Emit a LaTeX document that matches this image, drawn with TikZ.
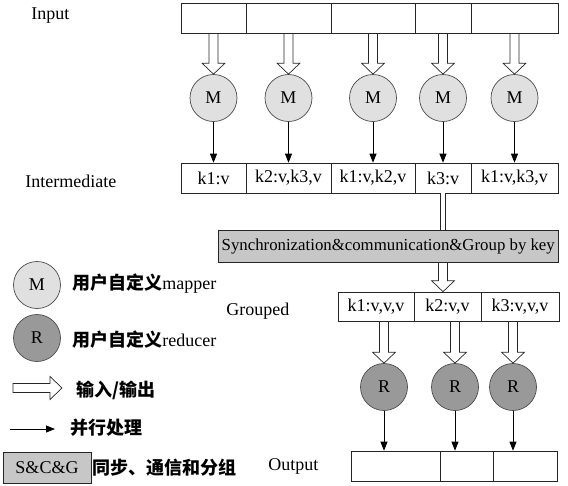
\documentclass[tikz,border=0pt]{standalone}
\usepackage{fontspec}
\setmainfont{Liberation Serif}
\newfontfamily\cjk{Noto Sans CJK SC}
\usetikzlibrary{calc,arrows.meta}
\newcommand\myfs{\fontsize{18}{21}\selectfont}
\begin{document}
\begin{tikzpicture}[x=1pt,y=-1pt,line width=0.7pt,
  cell/.style={draw=black!85,minimum height=30pt,inner sep=0pt,font=\myfs},
  mcirc/.style={circle,draw=black!70,fill=black!12,minimum size=47pt,inner sep=0pt,font=\myfs},
  rcirc/.style={circle,draw=black!70,fill=black!40,minimum size=47pt,inner sep=0pt,font=\myfs},
  graybox/.style={draw=black!85,fill=black!22,inner sep=0pt},
  lbl/.style={inner sep=0pt,font=\myfs,anchor=west},
  conn/.style={draw=black,line width=0.8pt,-{Triangle[width=7pt,length=9pt]}},
  hollowdown/.style={draw=black!85,line width=0.7pt,to path={let \p1=(\tikztostart),\p2=(\tikztotarget) in
     (\x1-4.5pt,\y1) -- (\x1-4.5pt,\y2+11pt) -- (\x1-11.5pt,\y2+11pt) -- (\x1,\y2)
     -- (\x1+11.5pt,\y2+11pt) -- (\x1+4.5pt,\y2+11pt) -- (\x1+4.5pt,\y1)}},
  hollowright/.style={draw=black!85,line width=0.7pt,to path={let \p1=(\tikztostart),\p2=(\tikztotarget) in
     (\x1,\y1+4.5pt) -- (\x2-12pt,\y1+4.5pt) -- (\x2-12pt,\y1+11.5pt) -- (\x2,\y1)
     -- (\x2-12pt,\y1-11.5pt) -- (\x2-12pt,\y1-4.5pt) -- (\x1,\y1-4.5pt) -- cycle}}
]
\useasboundingbox (0,0) rectangle (568,485);

% labels
\node[lbl] (linput) at (31,16) {Input};
\node[lbl] (linter) at (25,181) {Intermediate};
\node[lbl] (lgroup) at (226,311) {Grouped};
\node[lbl] (loutput) at (268,466) {Output};

% input row
\node[cell,minimum width=65pt] (t1) at (213.5,18.5) {};
\node[cell,minimum width=85pt] (t2) at (288.5,18.5) {};
\node[cell,minimum width=84pt] (t3) at (373,18.5) {};
\node[cell,minimum width=56pt] (t4) at (443,18.5) {};
\node[cell,minimum width=87pt] (t5) at (514.5,18.5) {};

% mappers
\foreach \i/\x in {1/213.5,2/288.5,3/373,4/443,5/514.5}
  \node[mcirc] (m\i) at (\x,98) {M};

% intermediate row
\node[cell,minimum width=65pt] (i1) at (213.5,178) {k1:v};
\node[cell,minimum width=85pt] (i2) at (288.5,178) {k2:v,k3,v};
\node[cell,minimum width=84pt] (i3) at (373,178) {k1:v,k2,v};
\node[cell,minimum width=56pt] (i4) at (443,178) {k3:v};
\node[cell,minimum width=87pt] (i5) at (514.5,178) {k1:v,k3,v};

\foreach \i in {1,...,5}{
  \draw[hollowdown] (t\i.south) to (m\i.north);
  \draw[conn] (m\i.south) -- (m\i.south |- i\i.north);
}

% sync box
\node[graybox,minimum width=339.5pt,minimum height=32pt,font=\fontsize{16.8}{20}\selectfont] (sync) at (388.25,246)
  {Synchronization\&communication\&Group by key};
\draw[draw=black!85,double,double distance=4pt] (i4.south) -- (i4.south |- sync.north);

% grouped row
\node[cell,minimum width=76pt,minimum height=29.5pt] (g1) at (376,306.75) {k1:v,v,v};
\node[cell,minimum width=67pt,minimum height=29.5pt] (g2) at (447.5,306.75) {k2:v,v};
\node[cell,minimum width=78pt,minimum height=29.5pt] (g3) at (520,306.75) {k3:v,v,v};
\draw[hollowdown] (i4.south |- sync.south) to (i4.south |- g2.north);

% reducers
\node[rcirc] (r1) at (384,387) {R};
\node[rcirc] (r2) at (455,387) {R};
\node[rcirc] (r3) at (513,387) {R};

% output row
\node[cell,minimum width=89pt] (o1) at (395.5,466) {};
\node[cell,minimum width=53pt] (o2) at (466.5,466) {};
\node[cell,minimum width=64pt] (o3) at (525,466) {};

\foreach \i in {1,2,3}{
  \draw[hollowdown] (r\i.north |- g\i.south) to (r\i.north);
  \draw[conn] (r\i.south) -- (r\i.south |- o1.north);
}

% legend
\node[mcirc] (lm) at (37,285) {M};
\node[lbl] (lmt) at (72,284) {{\cjk\bfseries 用户自定义}mapper};
\node[rcirc] (lr) at (37,338) {R};
\node[lbl] (lrt) at (72,340) {{\cjk\bfseries 用户自定义}reducer};
\coordinate (la1) at (13,388);
\coordinate (la2) at (62,388);
\draw[hollowright] (la1) to (la2);
\node[lbl] (lat) at (76,390) {\cjk\bfseries 输入/输出};
\coordinate (lb1) at (10,429);
\coordinate (lb2) at (55,429);
\draw[conn] (lb1) -- (lb2);
\node[lbl] (lbt) at (70,428) {\cjk\bfseries 并行处理};
\node[graybox,minimum width=88pt,minimum height=31pt,font=\myfs] (lsc) at (47,467.5) {S\&C\&G};
\node[lbl] (lsct) at (92,468) {\cjk\bfseries 同步、通信和分组};
\end{tikzpicture}
\end{document}
